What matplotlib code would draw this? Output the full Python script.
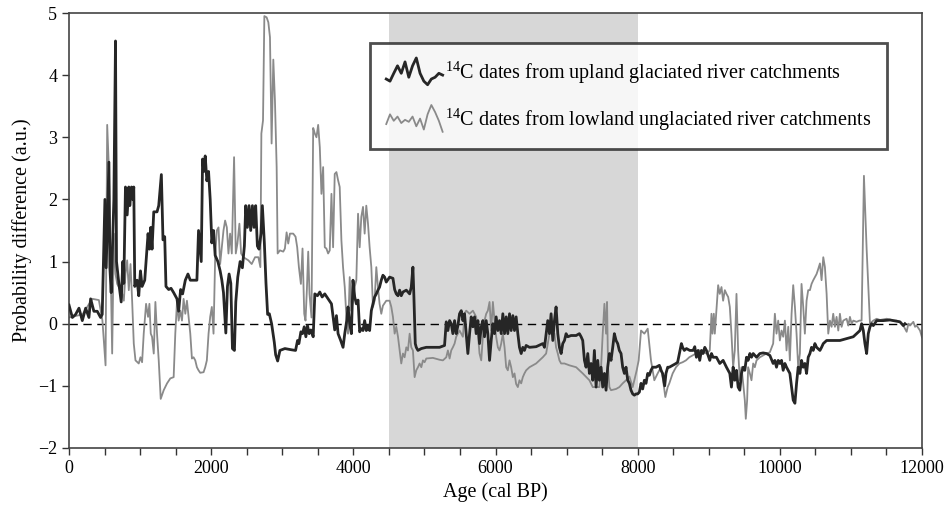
import matplotlib
matplotlib.use('Agg')
import matplotlib.pyplot as plt
import numpy as np
from matplotlib.legend_handler import HandlerBase
from matplotlib.lines import Line2D

plt.rcParams['font.family'] = ['Liberation Serif', 'DejaVu Serif']
plt.rcParams['mathtext.fontset'] = 'custom'
plt.rcParams['mathtext.rm'] = 'Liberation Serif'

# upland glaciated catchments (dark line)
upland_age = [0, 47, 93, 140, 187, 234, 280, 304, 350, 397, 444, 467, 505, 523, 561, 575, 593, 631, 654, 668,
              701, 734, 757, 771, 794, 818, 841, 855, 879, 897, 911, 925, 958, 981, 1005, 1028, 1065, 1084, 1112, 1131,
              1150, 1168, 1192, 1238, 1262, 1299, 1322, 1346, 1364, 1402, 1435, 1472, 1519, 1542, 1570, 1598, 1636, 1673, 1706, 1799,
              1822, 1860, 1879, 1897, 1916, 1939, 1963, 1986, 2009, 2033, 2056, 2094, 2126, 2150, 2173, 2206, 2229, 2252, 2276, 2299,
              2327, 2346, 2374, 2407, 2439, 2467, 2486, 2509, 2533, 2556, 2580, 2603, 2626, 2650, 2673, 2701, 2720, 2748, 2771, 2794,
              2818, 2850, 2888, 2907, 2935, 2967, 3037, 3131, 3187, 3215, 3234, 3262, 3285, 3309, 3332, 3355, 3379, 3402, 3435, 3458,
              3495, 3528, 3561, 3598, 3645, 3692, 3738, 3762, 3785, 3822, 3855, 3879, 3907, 3925, 3949, 3972, 3995, 4019, 4042, 4066,
              4089, 4112, 4136, 4159, 4182, 4206, 4229, 4253, 4276, 4299, 4323, 4346, 4369, 4393, 4416, 4440, 4463, 4510, 4557, 4581,
              4604, 4628, 4651, 4674, 4698, 4745, 4792, 4815, 4838, 4852, 4871, 4885, 4909, 4956, 5026, 5119, 5213, 5283, 5307, 5330,
              5354, 5377, 5400, 5424, 5447, 5471, 5494, 5518, 5541, 5564, 5588, 5611, 5635, 5658, 5682, 5705, 5728, 5752, 5775, 5799,
              5822, 5845, 5869, 5892, 5916, 5939, 5963, 5986, 6009, 6033, 6056, 6080, 6103, 6127, 6150, 6173, 6197, 6220, 6244, 6267,
              6290, 6314, 6337, 6361, 6384, 6407, 6431, 6478, 6571, 6665, 6689, 6712, 6735, 6759, 6782, 6806, 6829, 6852, 6876, 6899,
              6923, 6946, 6970, 6993, 7017, 7063, 7134, 7180, 7204, 7227, 7251, 7274, 7298, 7321, 7344, 7368, 7391, 7415, 7438, 7461,
              7485, 7508, 7532, 7555, 7578, 7602, 7625, 7649, 7672, 7696, 7719, 7742, 7766, 7789, 7813, 7836, 7860, 7883, 7906, 7930,
              7953, 7977, 8000, 8024, 8047, 8070, 8094, 8117, 8141, 8164, 8187, 8211, 8258, 8305, 8328, 8351, 8380, 8398, 8422, 8445,
              8492, 8539, 8562, 8586, 8615, 8632, 8656, 8686, 8733, 8780, 8803, 8826, 8850, 8873, 8897, 8920, 8944, 8967, 9014, 9038,
              9061, 9108, 9155, 9202, 9249, 9296, 9319, 9343, 9366, 9390, 9413, 9437, 9460, 9484, 9507, 9531, 9554, 9578, 9601, 9625,
              9672, 9719, 9765, 9812, 9859, 9906, 9930, 9953, 9977, 10000, 10024, 10047, 10071, 10094, 10141, 10165, 10188, 10212, 10235, 10258,
              10282, 10305, 10329, 10352, 10376, 10399, 10423, 10446, 10470, 10493, 10517, 10564, 10587, 10611, 10658, 10845, 10939, 11033, 11080, 11127,
              11150, 11174, 11197, 11221, 11244, 11268, 11291, 11315, 11362, 11456, 11550, 11643, 11690, 11737, 11760]
upland_diff = [0.3, 0.1, 0.15, 0.25, 0.05, 0.25, 0.1, 0.4, 0.2, 0.2, 0.1, 0.15, 2.0, 0.9, 2.6, 0.9, 0.5, 2.0, 4.55, 1.0,
               0.65, 0.35, 1.0, 0.65, 2.2, 1.75, 2.2, 1.9, 2.2, 2.0, 2.2, 0.6, 0.7, 0.45, 0.85, 0.6, 0.7, 1.0, 1.45, 1.2,
               1.55, 1.2, 1.8, 1.8, 1.9, 2.4, 1.35, 1.4, 0.6, 0.55, 0.57, 0.5, 0.4, 0.2, 0.55, 0.48, 0.7, 0.8, 0.7, 0.7,
               1.5, 1.0, 2.65, 2.45, 2.7, 2.3, 2.45, 2.0, 1.3, 1.5, 1.1, 1.0, 0.85, 0.7, 0.5, -0.15, 0.6, 0.8, 0.65, -0.4,
               -0.43, 0.35, 0.75, 1.0, 0.9, 1.25, 1.9, 1.55, 1.9, 1.5, 1.9, 1.55, 1.9, 1.25, 1.2, 1.45, 1.9, 1.3, 0.65, 0.15,
               0.16, 0.0, -0.3, -0.5, -0.6, -0.43, -0.4, -0.42, -0.43, -0.27, -0.32, -0.13, -0.16, -0.05, -0.21, -0.03, -0.16, -0.1, -0.21, 0.48,
               0.45, 0.51, 0.43, 0.48, 0.4, 0.32, -0.1, 0.13, -0.16, -0.27, -0.38, -0.16, 0.05, 0.27, 0.0, -0.16, 0.7, 0.43, 0.32, 0.38,
               -0.13, -0.08, -0.11, 0.05, -0.11, -0.03, -0.11, 0.21, 0.32, 0.43, 0.48, 0.54, 0.59, 0.7, 0.78, 0.75, 0.67, 0.75, 0.73, 0.55,
               0.48, 0.45, 0.54, 0.45, 0.51, 0.54, 0.48, 0.59, 0.91, 0.43, -0.32, -0.38, -0.43, -0.4, -0.38, -0.38, -0.38, -0.35, 0.03, -0.11,
               0.05, 0.0, -0.16, 0.05, -0.16, -0.03, 0.16, 0.21, 0.05, 0.16, -0.16, -0.48, -0.16, 0.11, -0.05, 0.11, -0.16, 0.05, -0.32, -0.05,
               0.05, -0.21, 0.05, -0.16, -0.59, -0.27, 0.0, -0.16, 0.11, -0.11, 0.05, -0.16, 0.16, -0.16, 0.11, -0.16, 0.16, -0.11, 0.13, -0.11,
               0.11, -0.16, -0.38, -0.48, -0.38, -0.43, -0.35, -0.38, -0.37, -0.32, -0.38, -0.16, 0.05, -0.16, 0.16, -0.27, 0.05, 0.27, -0.16, -0.38,
               -0.48, -0.32, -0.27, -0.16, -0.21, -0.19, -0.19, -0.16, -0.21, -0.27, -0.59, -0.7, -0.48, -0.8, -0.64, -0.91, -0.43, -1.02, -0.59, -0.91,
               -0.7, -1.02, -0.8, -1.07, -0.7, -0.48, -0.59, -0.38, -0.16, -0.27, -0.32, -0.43, -0.48, -0.7, -0.8, -0.7, -0.91, -0.96, -1.07, -1.13,
               -1.15, -1.13, -1.13, -1.1, -0.96, -1.05, -0.91, -0.96, -0.8, -0.83, -0.75, -0.7, -0.7, -0.67, -0.75, -0.8, -1.0, -0.8, -0.7, -0.7,
               -0.67, -0.64, -0.62, -0.48, -0.32, -0.38, -0.43, -0.4, -0.43, -0.43, -0.37, -0.54, -0.43, -0.59, -0.43, -0.48, -0.38, -0.43, -0.59, -0.48,
               -0.54, -0.54, -0.64, -0.59, -0.7, -0.8, -1.02, -0.7, -0.91, -0.75, -1.02, -1.07, -0.8, -0.7, -0.75, -0.54, -0.59, -0.48, -0.54, -0.48,
               -0.54, -0.48, -0.47, -0.48, -0.51, -0.64, -0.59, -0.7, -0.59, -0.64, -0.59, -0.75, -0.64, -0.7, -0.8, -1.02, -1.23, -1.28, -0.96, -0.7,
               -0.8, -0.59, -0.7, -0.64, -0.8, -0.54, -0.48, -0.38, -0.43, -0.32, -0.38, -0.43, -0.38, -0.32, -0.27, -0.27, -0.24, -0.21, -0.16, -0.11,
               0.0, -0.11, -0.32, -0.48, -0.16, -0.05, 0.0, -0.03, 0.05, 0.05, 0.06, 0.04, 0.03, -0.03, 0.0]

# lowland unglaciated catchments (grey line)
lowland_age = [0, 190, 300, 330, 420, 470, 514, 537, 561, 584, 607, 631, 654, 678, 724, 748, 771, 794, 818, 841,
               865, 888, 911, 935, 981, 1005, 1028, 1051, 1084, 1112, 1131, 1150, 1168, 1192, 1215, 1238, 1262, 1290, 1332, 1379,
               1425, 1472, 1495, 1519, 1542, 1566, 1589, 1612, 1636, 1659, 1682, 1706, 1729, 1752, 1776, 1799, 1822, 1846, 1893, 1916,
               1939, 1963, 1986, 2009, 2033, 2056, 2079, 2103, 2126, 2150, 2173, 2196, 2220, 2243, 2266, 2290, 2322, 2346, 2369, 2397,
               2421, 2453, 2523, 2570, 2617, 2664, 2692, 2706, 2729, 2748, 2780, 2804, 2827, 2850, 2874, 2897, 2921, 2935, 2967, 3014,
               3037, 3061, 3084, 3108, 3154, 3187, 3210, 3234, 3262, 3285, 3309, 3327, 3346, 3365, 3383, 3411, 3435, 3458, 3481, 3505,
               3528, 3551, 3575, 3598, 3621, 3645, 3668, 3692, 3715, 3738, 3762, 3785, 3808, 3832, 3855, 3879, 3902, 3925, 3949, 3972,
               3995, 4019, 4042, 4066, 4089, 4112, 4136, 4159, 4182, 4206, 4229, 4253, 4276, 4299, 4323, 4346, 4369, 4393, 4416, 4463,
               4510, 4534, 4557, 4581, 4604, 4628, 4651, 4674, 4698, 4721, 4745, 4768, 4792, 4815, 4838, 4862, 4885, 4909, 4932, 4956,
               4979, 5002, 5026, 5119, 5213, 5260, 5307, 5330, 5354, 5377, 5400, 5424, 5447, 5471, 5494, 5518, 5541, 5564, 5588, 5635,
               5682, 5728, 5752, 5775, 5799, 5822, 5845, 5869, 5892, 5916, 5939, 5963, 5986, 6009, 6033, 6056, 6080, 6103, 6127, 6150,
               6173, 6197, 6220, 6244, 6267, 6290, 6314, 6337, 6361, 6384, 6407, 6431, 6478, 6571, 6618, 6665, 6712, 6759, 6782, 6806,
               6829, 6852, 6876, 6899, 6923, 6970, 7040, 7134, 7227, 7321, 7368, 7461, 7485, 7508, 7532, 7555, 7569, 7583, 7602, 7625,
               7696, 7742, 7789, 7836, 7883, 7930, 7986, 8014, 8047, 8094, 8141, 8187, 8234, 8281, 8328, 8351, 8389, 8422, 8445, 8492,
               8539, 8586, 8632, 8679, 8726, 8773, 8820, 8867, 8967, 9014, 9038, 9052, 9071, 9085, 9108, 9132, 9155, 9179, 9202, 9226,
               9249, 9273, 9296, 9319, 9343, 9366, 9390, 9413, 9437, 9460, 9484, 9507, 9521, 9540, 9554, 9578, 9601, 9625, 9648, 9672,
               9719, 9765, 9812, 9859, 9906, 9930, 9953, 9977, 10000, 10024, 10047, 10071, 10094, 10118, 10141, 10165, 10188, 10212, 10235, 10258,
               10282, 10305, 10329, 10352, 10376, 10399, 10423, 10446, 10470, 10493, 10517, 10540, 10564, 10587, 10611, 10634, 10658, 10681, 10705, 10728,
               10751, 10775, 10798, 10822, 10845, 10869, 10892, 10939, 10963, 10986, 11010, 11033, 11080, 11118, 11150, 11183, 11221, 11268, 11315, 11362,
               11409, 11503, 11597, 11643, 11690, 11737, 11784, 11808, 11831, 11855, 11878, 11902, 11925, 11972, 12000]
lowland_diff = [0.1, 0.15, 0.35, 0.4, 0.38, 0.05, -0.67, 3.2, 2.5, 1.0, -0.48, 1.45, 0.8, 0.64, 0.54, 0.48, 0.37, 0.8, 1.02, 0.54,
                0.96, 0.37, -0.32, -0.59, -0.64, -0.54, -0.62, -0.16, 0.32, 0.11, 0.32, -0.16, -0.21, -0.48, 0.35, -0.16, -0.59, -1.21, -1.07, -0.96,
                -0.88, -0.86, -0.16, 0.35, 0.05, 0.21, 0.05, 0.4, 0.16, 0.37, 0.11, -0.16, -0.56, -0.54, -0.59, -0.7, -0.75, -0.79, -0.78, -0.7,
                -0.59, -0.16, 0.11, 0.27, -0.16, 1.07, 1.5, 1.55, 0.96, 1.23, 1.5, 1.66, 1.55, 1.13, 1.45, 1.13, 2.68, 1.13, 1.29, 1.61,
                1.13, 1.07, 1.02, 0.96, 1.07, 1.07, 0.91, 3.06, 3.27, 4.95, 4.93, 4.85, 4.61, 2.9, 4.25, 3.59, 2.52, 1.13, 1.18, 1.16,
                1.21, 1.47, 1.29, 1.45, 1.45, 1.4, 1.23, 0.91, 0.64, 1.21, 0.16, 0.05, 0.54, 1.16, 0.48, 0.1, 3.15, 3.06, 3.0, 3.2,
                2.84, 2.09, 2.52, 1.23, 1.21, 1.13, 1.18, 2.09, 1.23, 2.41, 2.44, 2.31, 2.2, 1.34, 0.91, 0.59, 0.11, -0.16, 0.75, 0.21,
                0.38, 0.59, 0.7, 1.77, 1.23, 1.72, 1.88, 1.45, 1.9, 1.61, 1.23, 0.91, 0.27, 0.37, 0.91, 0.59, 0.32, 0.16, 0.29, 0.37,
                0.37, 0.27, 0.11, -0.16, -0.05, -0.21, -0.43, -0.64, -0.48, -0.54, -0.38, -0.43, -0.16, -0.38, -0.43, -0.86, -0.75, -0.7, -0.64, -0.7,
                -0.59, -0.62, -0.56, -0.55, -0.58, -0.59, -0.54, -0.43, -0.56, -0.43, -0.38, -0.32, -0.21, -0.16, -0.11, -0.16, -0.21, 0.16, 0.21, 0.16,
                0.21, 0.11, -0.16, -0.48, -0.59, -0.21, 0.05, 0.16, 0.21, 0.35, -0.11, 0.35, 0.05, -0.21, -0.38, -0.43, -0.32, -0.16, -0.38, -0.7,
                -0.75, -0.59, -0.7, -0.86, -0.8, -0.97, -1.02, -0.91, -0.96, -0.86, -0.8, -0.75, -0.7, -0.64, -0.59, -0.54, -0.48, -0.16, 0.05, -0.21,
                -0.16, -0.38, -0.48, -0.59, -0.64, -0.64, -0.67, -0.7, -0.8, -0.91, -1.02, -1.02, -0.7, -0.16, 0.32, -0.16, 0.35, -0.7, -1.02, -1.07,
                -1.05, -1.02, -0.96, -0.91, -0.85, -1.02, -0.75, -0.59, -0.11, -0.16, -0.08, -0.59, -0.91, -0.8, -0.7, -0.86, -1.18, -1.02, -0.96, -0.8,
                -0.7, -0.64, -0.62, -0.59, -0.54, -0.51, -0.48, -0.43, -0.48, -0.43, 0.16, -0.16, 0.16, -0.16, 0.21, 0.62, 0.48, 0.59, 0.37, 0.54,
                0.48, 0.43, 0.27, -0.16, -0.7, -0.43, 0.48, -0.43, -0.91, -0.7, -0.96, -1.23, -1.53, -1.23, -0.7, -0.8, -0.91, -0.64, -0.7, -0.59,
                -0.54, -0.51, -0.48, -0.46, -0.32, 0.16, -0.16, 0.05, -0.27, -0.11, -0.21, 0.05, -0.43, -0.05, -0.59, 0.16, 0.62, 0.27, -0.16, -0.7,
                -0.48, 0.64, 0.27, -0.16, 0.37, 0.54, 0.54, 0.64, 0.7, 0.75, 0.8, 0.88, 0.97, 0.7, 1.07, 0.91, 0.48, -0.16, 0.05, -0.05,
                0.16, -0.05, 0.11, -0.11, 0.16, -0.05, 0.05, 0.08, -0.03, 0.11, 0.0, 0.05, 0.03, 0.05, 0.05, 2.38, 1.2, 0.0, 0.05, 0.08,
                0.06, 0.08, 0.05, 0.05, 0.03, -0.03, -0.13, 0.0, -0.03, 0.0, 0.03, -0.05, -0.03, -0.11, -0.22]

labels = [r'$^{\mathrm{14}}$C dates from upland glaciated river catchments',
          r'$^{\mathrm{14}}$C dates from lowland unglaciated river catchments']
shade_start, shade_end = 4500, 8000


def piece(age, vals, lo, hi):
    # a short stretch of a series, used as the legend key
    age = np.asarray(age)
    vals = np.asarray(vals, dtype=float)
    return vals[(age >= lo) & (age <= hi)]


class SquiggleHandler(HandlerBase):
    def __init__(self, seg):
        super().__init__()
        self.seg = seg

    def create_artists(self, legend, orig_handle, xdescent, ydescent,
                       width, height, fontsize, trans):
        s = self.seg
        xs = np.linspace(0, width, len(s)) - xdescent
        ys = (s - s.min()) / (s.max() - s.min()) * height * 1.9 - height * 0.45 - ydescent
        ln = Line2D(xs, ys, color=orig_handle.get_color(),
                    lw=orig_handle.get_linewidth(), transform=trans)
        return [ln]


fig = plt.figure(figsize=(9.52, 5.16), dpi=100)
ax = fig.add_axes([0.0725, 0.1318, 0.896, 0.843])

ax.axvspan(shade_start, shade_end, color='#d7d7d7', lw=0, zorder=0)
ax.axhline(0, color='black', lw=1.0, ls=(0, (6, 4)), zorder=1)
l_low, = ax.plot(lowland_age, lowland_diff, color='#8a8a8a', lw=1.3, zorder=2)
l_up, = ax.plot(upland_age, upland_diff, color='#262626', lw=2.0, zorder=3)

ax.set_xlim(0, 12000)
ax.set_ylim(-2, 5)
ax.set_xticks(range(0, 12001, 2000))
ax.set_xticks(range(0, 12001, 500), minor=True)
ax.set_yticks(range(-2, 6))
ax.tick_params(axis='both', which='both', direction='out', top=False, right=False,
               labelsize=13, width=1.0, color='#333333')
ax.tick_params(axis='both', which='major', length=5)
ax.tick_params(axis='x', which='minor', length=5)
for sp in ax.spines.values():
    sp.set_color('#444444')
    sp.set_linewidth(1.2)

ax.set_xlabel('Age (cal BP)', fontsize=14.5)
ax.set_ylabel('Probability difference (a.u.)', fontsize=14.5)

leg = ax.legend([l_up, l_low], labels, loc='upper left', bbox_to_anchor=(0.353, 0.932),
                borderaxespad=0, fontsize=14.5, frameon=True, fancybox=False,
                handlelength=2.8, handletextpad=0.1, labelspacing=1.0,
                borderpad=0.8,
                handler_map={l_up: SquiggleHandler(piece(upland_age, upland_diff, 6660, 7020)),
                             l_low: SquiggleHandler(piece(lowland_age, lowland_diff, 9900, 10260))})
leg.get_frame().set_edgecolor('#222222')
leg.get_frame().set_linewidth(2.0)

fig.savefig('out.png', dpi=100)
